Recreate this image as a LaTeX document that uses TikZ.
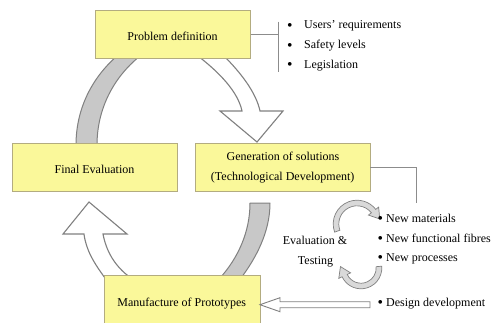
\documentclass[tikz,border=0pt]{standalone}
\usepackage{fontspec}
\setmainfont{Liberation Serif}
\usetikzlibrary{calc}
\definecolor{boxfill}{HTML}{FAF89A}
\definecolor{boxline}{HTML}{B3AC80}
\definecolor{arrline}{HTML}{808080}
\definecolor{bandfill}{HTML}{C8C8C8}
\definecolor{connline}{HTML}{8C8C8C}
\newcommand{\bigbul}{\raisebox{-1.4pt}{\scalebox{1.3}{\textbullet}}}
\begin{document}
\begin{tikzpicture}[x=1pt,y=1pt,
  font=\fontsize{12}{14}\selectfont,
  box/.style={draw=boxline, fill=boxfill, line width=0.8pt, inner sep=0pt, outer sep=0pt},
  lbl/.style={inner sep=0pt, anchor=base},
  blt/.style={inner sep=0pt, anchor=base west},
  band/.style={draw=arrline, fill=bandfill, line width=1pt, line join=round},
  warrow/.style={draw=arrline, fill=white, line width=1.1pt, line join=miter},
  smallarrow/.style={draw=arrline, fill=bandfill!70, line width=0.7pt, line join=miter},
  conn/.style={draw=connline, line width=0.8pt},
]
\clip (0,0) rectangle (492,-322);
\fill[white] (0,0) rectangle (492,-322);

% ---- big cycle bands and block arrows (drawn below boxes)
% top-left grey band: Final Evaluation -> Problem definition
\path[band] (76,-145) .. controls (76,-110) and (91,-78.7) .. (117,-56)
  -- (140,-56) .. controls (113,-77.8) and (97,-109.5) .. (97,-145) -- cycle;
% top-right white arrow: Problem definition -> Generation
\path[warrow] (198,-56) .. controls (220,-73) and (238,-92) .. (242,-111)
  -- (220,-111) -- (257,-142) -- (283,-111) -- (260,-111)
  .. controls (256,-92) and (240,-72) .. (224,-56) -- cycle;
% bottom-right grey band: Generation -> Manufacture
\path[band] (250,-203) -- (270,-203) .. controls (270,-232) and (256,-258) .. (241,-278)
  -- (220,-278) .. controls (238,-258) and (250,-232) .. (250,-203) -- cycle;
% bottom-left white arrow: Manufacture -> Final Evaluation
\path[warrow] (105,-278) .. controls (94,-263) and (86,-250) .. (84,-234)
  -- (63,-234) -- (89,-202) -- (127,-234) -- (103,-234)
  .. controls (106,-250) and (114,-266) .. (131,-278) -- cycle;

% ---- boxes
\node[box, minimum width=155.7pt, minimum height=48.3pt] (pd) at (172.85,-34.15) {};
\node[box, minimum width=165pt, minimum height=48pt] (fe) at (94.5,-167) {};
\node[box, minimum width=175pt, minimum height=48pt] (gs) at (282.5,-167) {};
\node[box, minimum width=156pt, minimum height=65pt] (mp) at (182,-307.5) {};

% ---- box texts
\node[lbl] (pdt) at (172.5,-40.2) {Problem definition};
\node[lbl] (fet) at (94.5,-173.6) {Final Evaluation};
\node[lbl] (gst1) at (283,-160.5) {Generation of solutions};
\node[lbl] (gst2) at (282.7,-180.6) {(Technological Development)};
\node[lbl] (mpt) at (181.7,-306.2) {Manufacture of Prototypes};

% ---- problem definition bracket and list
\coordinate (bmid) at (278,-34.15);
\coordinate (btop) at (278,-21.5);
\coordinate (bbot) at (278,-71.7);
\draw[conn] (pd.east) -- (bmid);
\draw[conn] (btop) -- (bbot);
\node[blt] (u1) at (287,-28.6) {\makebox[17pt][l]{\bigbul}Users’ requirements};
\node[blt] (u2) at (287,-48.6) {\makebox[17pt][l]{\bigbul}Safety levels};
\node[blt] (u3) at (287,-68) {\makebox[17pt][l]{\bigbul}Legislation};

% ---- generation connector
\coordinate (gend) at (416,-203);
\draw[conn] (gs.east) -| (gend);

% ---- evaluation & testing loop
\coordinate (c1) at (357,-224);
\coordinate (c2) at (361,-268);
\path[smallarrow] ($(c1)+(200:23.8)$) arc[start angle=200, end angle=38, radius=23.8]
  -- ($(c1)+(38:27.5)$) -- ($(c1)+(38:21)+(-52:10)$) -- ($(c1)+(38:14.5)$)
  -- ($(c1)+(38:18.2)$) arc[start angle=38, end angle=200, radius=18.2] -- cycle;
\path[smallarrow] ($(c2)+(5:20.8)$) arc[start angle=5, end angle=-155, radius=20.8]
  -- ($(c2)+(-155:24.5)$) -- ($(c2)+(-155:18)+(115:10)$) -- ($(c2)+(-155:11.5)$)
  -- ($(c2)+(-155:15.2)$) arc[start angle=-155, end angle=5, radius=15.2] -- cycle;
\node[lbl] (ev) at (315,-244.6) {Evaluation \&};
\node[lbl] (te) at (315.5,-264) {Testing};

\node[blt] (n1) at (377.5,-222.2) {\makebox[8.5pt][l]{\bigbul}New materials};
\node[blt] (n2) at (377.5,-242) {\makebox[8.5pt][l]{\bigbul}New functional fibres};
\node[blt] (n3) at (377.5,-261.2) {\makebox[8.5pt][l]{\bigbul}New processes};
\node[blt] (dd) at (377.5,-306.2) {\makebox[8.5pt][l]{\bigbul}Design development};

% ---- design development arrow into manufacture
\path[warrow, line width=0.9pt] (370,-301.7) -- (280,-301.7) -- (280,-297.7) -- (mp.east |- 0,-304.7)
  -- (280,-311.7) -- (280,-307.7) -- (370,-307.7) -- cycle;
\end{tikzpicture}
\end{document}
